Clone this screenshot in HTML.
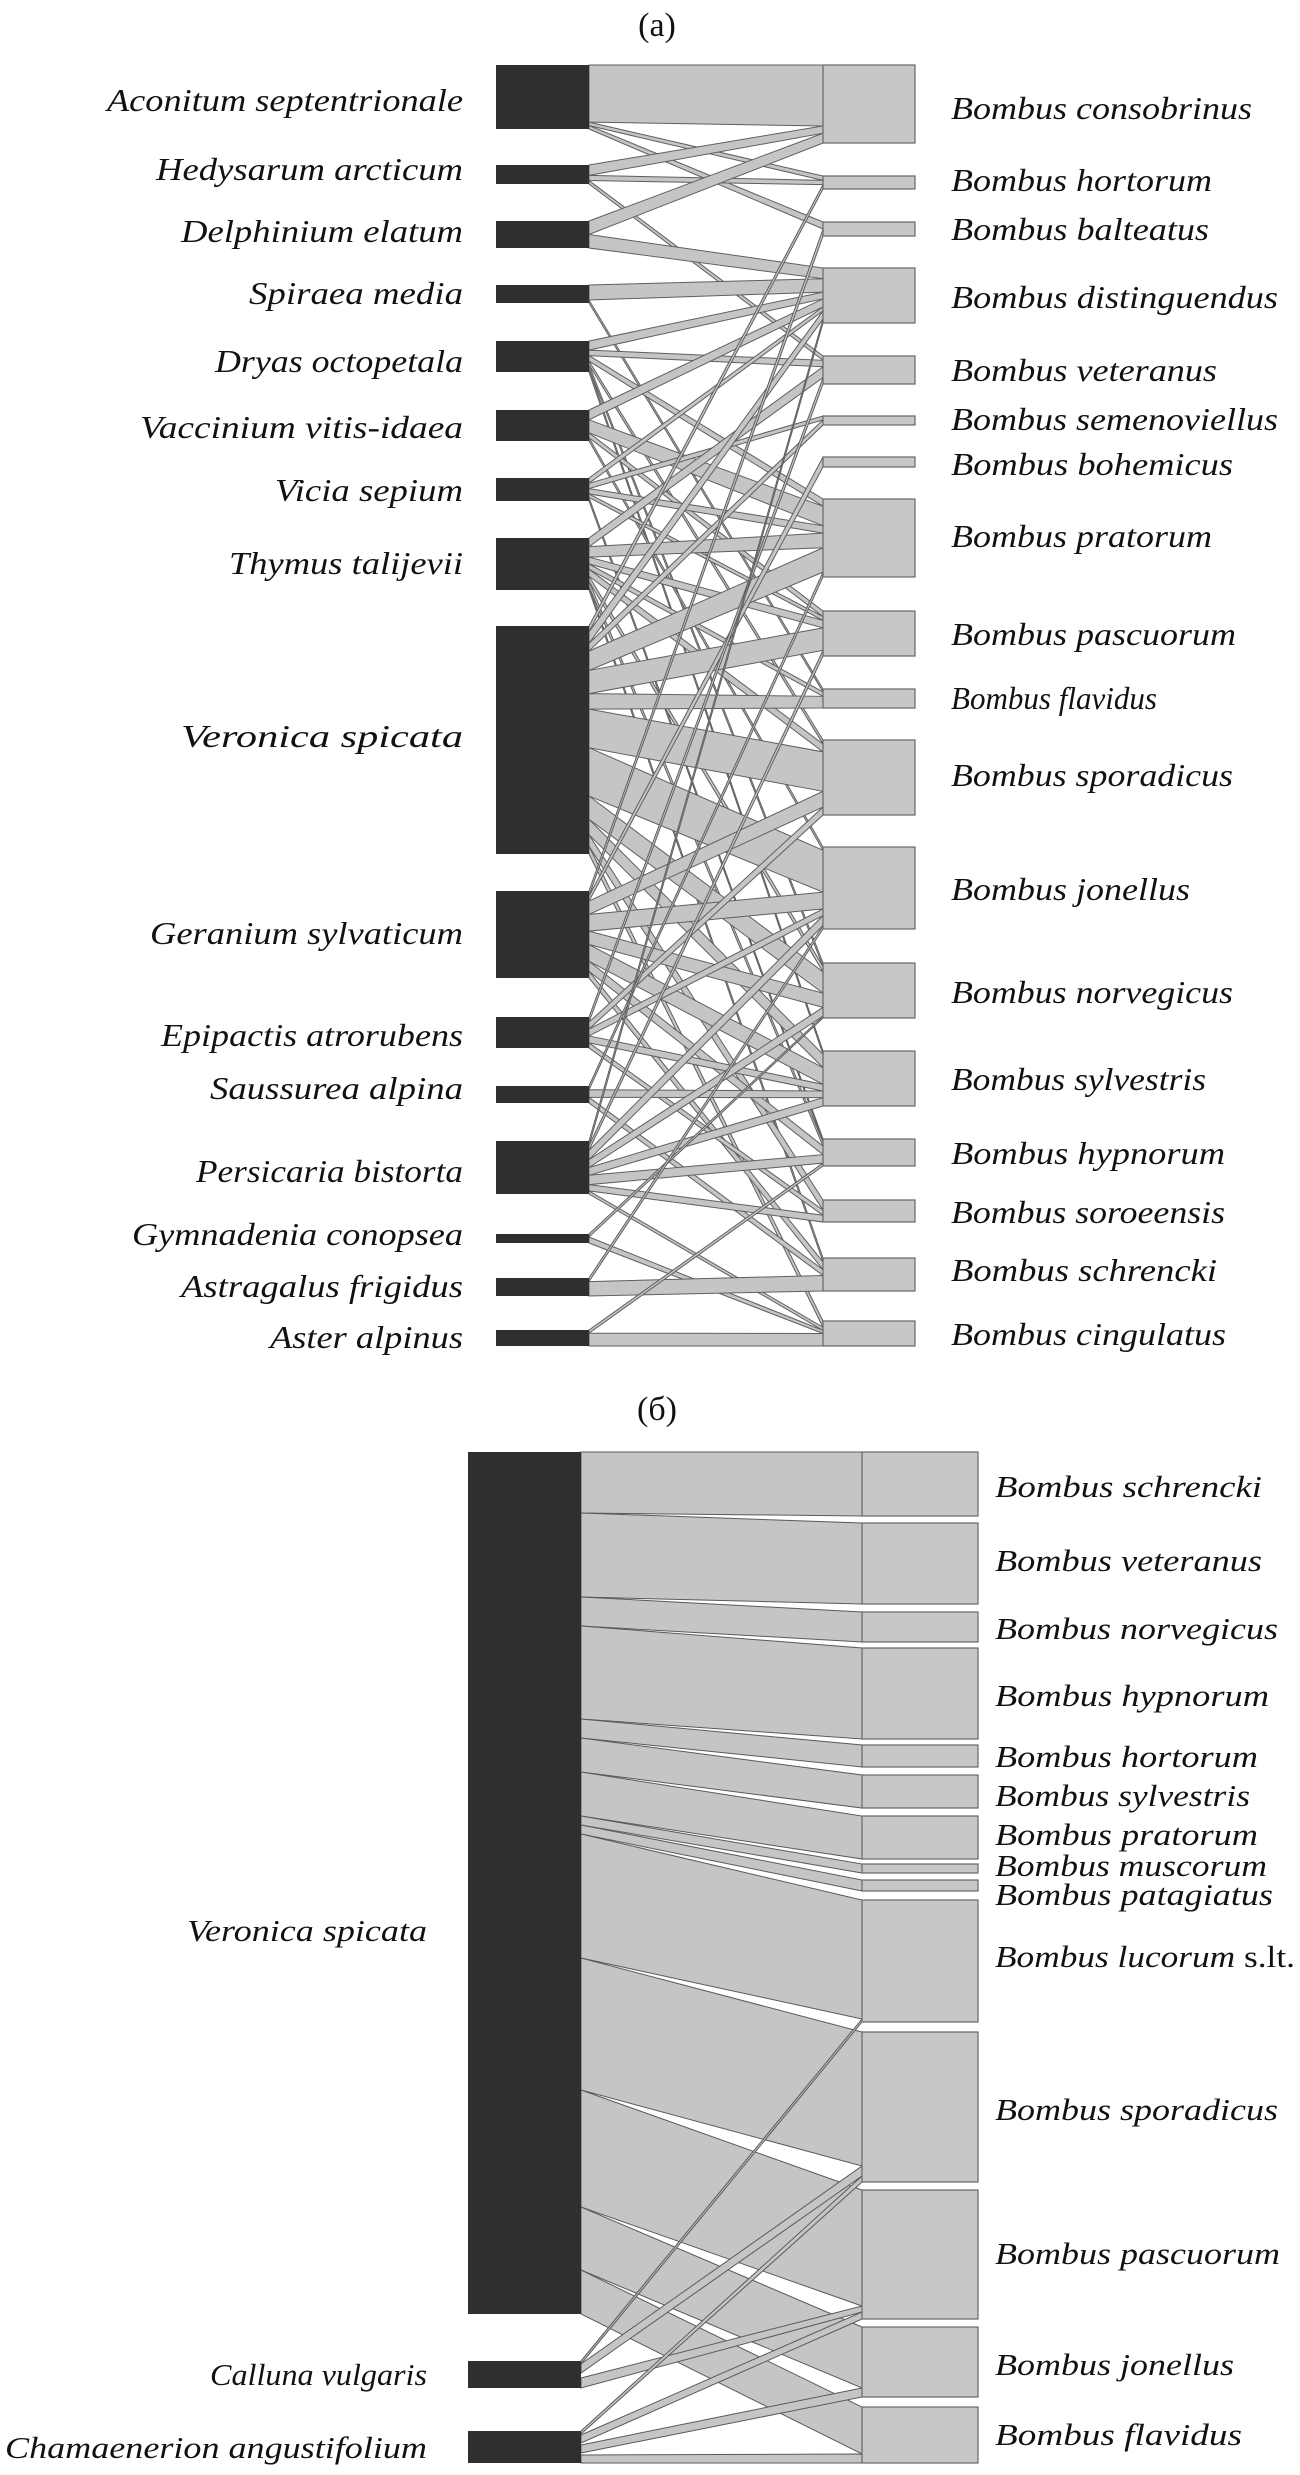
<!DOCTYPE html>
<html><head><meta charset="utf-8"><style>
html,body{margin:0;padding:0;background:#fff}
svg{display:block}
text{font-family:"Liberation Serif",serif;fill:#111}
.it{font-style:italic;font-size:32px}
.itb{font-style:italic;font-size:31px}
</style></head><body>
<svg id="s" width="1300" height="2475" viewBox="0 0 1300 2475" xmlns="http://www.w3.org/2000/svg">
<rect width="1300" height="2475" fill="#fff"/>
<g id="linksA"></g>
<g id="blocksA"></g>
<text x="657" y="36" font-size="34" text-anchor="middle">(a)</text>
<g class="it" text-anchor="end">
<text x="463" y="111" textLength="356" lengthAdjust="spacingAndGlyphs">Aconitum septentrionale</text>
<text x="463" y="180" textLength="307" lengthAdjust="spacingAndGlyphs">Hedysarum arcticum</text>
<text x="463" y="242" textLength="282" lengthAdjust="spacingAndGlyphs">Delphinium elatum</text>
<text x="463" y="304" textLength="214" lengthAdjust="spacingAndGlyphs">Spiraea media</text>
<text x="463" y="372" textLength="248" lengthAdjust="spacingAndGlyphs">Dryas octopetala</text>
<text x="463" y="438" textLength="323" lengthAdjust="spacingAndGlyphs">Vaccinium vitis-idaea</text>
<text x="463" y="501" textLength="188" lengthAdjust="spacingAndGlyphs">Vicia sepium</text>
<text x="463" y="574" textLength="234" lengthAdjust="spacingAndGlyphs">Thymus talijevii</text>
<text x="463" y="747" textLength="282" lengthAdjust="spacingAndGlyphs">Veronica spicata</text>
<text x="463" y="944" textLength="313" lengthAdjust="spacingAndGlyphs">Geranium sylvaticum</text>
<text x="463" y="1046" textLength="302" lengthAdjust="spacingAndGlyphs">Epipactis atrorubens</text>
<text x="463" y="1099" textLength="253" lengthAdjust="spacingAndGlyphs">Saussurea alpina</text>
<text x="463" y="1182" textLength="267" lengthAdjust="spacingAndGlyphs">Persicaria bistorta</text>
<text x="463" y="1245" textLength="331" lengthAdjust="spacingAndGlyphs">Gymnadenia conopsea</text>
<text x="463" y="1297" textLength="282" lengthAdjust="spacingAndGlyphs">Astragalus frigidus</text>
<text x="463" y="1348" textLength="193" lengthAdjust="spacingAndGlyphs">Aster alpinus</text>
</g>
<g class="it">
<text x="951" y="119" textLength="301" lengthAdjust="spacingAndGlyphs">Bombus consobrinus</text>
<text x="951" y="191" textLength="261" lengthAdjust="spacingAndGlyphs">Bombus hortorum</text>
<text x="951" y="240" textLength="258" lengthAdjust="spacingAndGlyphs">Bombus balteatus</text>
<text x="951" y="308" textLength="327" lengthAdjust="spacingAndGlyphs">Bombus distinguendus</text>
<text x="951" y="381" textLength="266" lengthAdjust="spacingAndGlyphs">Bombus veteranus</text>
<text x="951" y="430" textLength="327" lengthAdjust="spacingAndGlyphs">Bombus semenoviellus</text>
<text x="951" y="475" textLength="282" lengthAdjust="spacingAndGlyphs">Bombus bohemicus</text>
<text x="951" y="547" textLength="261" lengthAdjust="spacingAndGlyphs">Bombus pratorum</text>
<text x="951" y="645" textLength="285" lengthAdjust="spacingAndGlyphs">Bombus pascuorum</text>
<text x="951" y="709" textLength="206" lengthAdjust="spacingAndGlyphs">Bombus flavidus</text>
<text x="951" y="786" textLength="282" lengthAdjust="spacingAndGlyphs">Bombus sporadicus</text>
<text x="951" y="900" textLength="239" lengthAdjust="spacingAndGlyphs">Bombus jonellus</text>
<text x="951" y="1003" textLength="282" lengthAdjust="spacingAndGlyphs">Bombus norvegicus</text>
<text x="951" y="1090" textLength="255" lengthAdjust="spacingAndGlyphs">Bombus sylvestris</text>
<text x="951" y="1164" textLength="274" lengthAdjust="spacingAndGlyphs">Bombus hypnorum</text>
<text x="951" y="1223" textLength="274" lengthAdjust="spacingAndGlyphs">Bombus soroeensis</text>
<text x="951" y="1281" textLength="266" lengthAdjust="spacingAndGlyphs">Bombus schrencki</text>
<text x="951" y="1345" textLength="275" lengthAdjust="spacingAndGlyphs">Bombus cingulatus</text>
</g>

<!-- Panel b -->
<text x="657" y="1420" font-size="34" text-anchor="middle">(б)</text>
<g fill="#c4c5c7" stroke="#5a5a5a" stroke-width="1">
<polygon points="581,1452 862,1452 862,1516 581,1513"/>
<polygon points="581,1513 862,1523 862,1604 581,1597"/>
<polygon points="581,1597 862,1612 862,1642 581,1626"/>
<polygon points="581,1626 862,1648 862,1739 581,1719"/>
<polygon points="581,1719 862,1745 862,1767 581,1738"/>
<polygon points="581,1738 862,1775 862,1808 581,1772"/>
<polygon points="581,1772 862,1816 862,1859 581,1816"/>
<polygon points="581,1816 862,1864 862,1873 581,1825"/>
<polygon points="581,1825 862,1880 862,1891 581,1834"/>
<polygon points="581,1834 862,1900 862,2019 581,1958"/>
<polygon points="581,1958 862,2032 862,2166 581,2090"/>
<polygon points="581,2090 862,2190 862,2306 581,2207"/>
<polygon points="581,2207 862,2327 862,2388 581,2270"/>
<polygon points="581,2270 862,2407 862,2454 581,2314"/>
<polygon points="581,2361 862,2019 862,2022 581,2364"/>
<polygon points="581,2364 862,2166 862,2176 581,2373"/>
<polygon points="581,2378 862,2306 862,2312 581,2388"/>
<polygon points="581,2431 862,2176 862,2182 581,2434"/>
<polygon points="581,2435 862,2312 862,2319 581,2443"/>
<polygon points="581,2445 862,2388 862,2397 581,2453"/>
<polygon points="581,2455 862,2454 862,2463 581,2463"/>
</g>
<g fill="#2f2e30">
<rect x="468" y="1452" width="113" height="862"/>
<rect x="468" y="2361" width="113" height="27"/>
<rect x="468" y="2431" width="113" height="32"/>
</g>
<g fill="#c6c7c9" stroke="#666" stroke-width="1.2">
<rect x="862" y="1452" width="116" height="64"/>
<rect x="862" y="1523" width="116" height="81"/>
<rect x="862" y="1612" width="116" height="30"/>
<rect x="862" y="1648" width="116" height="91"/>
<rect x="862" y="1745" width="116" height="22"/>
<rect x="862" y="1775" width="116" height="33"/>
<rect x="862" y="1816" width="116" height="43"/>
<rect x="862" y="1864" width="116" height="9"/>
<rect x="862" y="1880" width="116" height="11"/>
<rect x="862" y="1900" width="116" height="122"/>
<rect x="862" y="2032" width="116" height="150"/>
<rect x="862" y="2190" width="116" height="129"/>
<rect x="862" y="2327" width="116" height="70"/>
<rect x="862" y="2407" width="116" height="56"/>
</g>
<g class="itb">
<text x="995" y="1497" textLength="267" lengthAdjust="spacingAndGlyphs">Bombus schrencki</text>
<text x="995" y="1571" textLength="267" lengthAdjust="spacingAndGlyphs">Bombus veteranus</text>
<text x="995" y="1639" textLength="283" lengthAdjust="spacingAndGlyphs">Bombus norvegicus</text>
<text x="995" y="1706" textLength="274" lengthAdjust="spacingAndGlyphs">Bombus hypnorum</text>
<text x="995" y="1767" textLength="263" lengthAdjust="spacingAndGlyphs">Bombus hortorum</text>
<text x="995" y="1806" textLength="255" lengthAdjust="spacingAndGlyphs">Bombus sylvestris</text>
<text x="995" y="1845" textLength="263" lengthAdjust="spacingAndGlyphs">Bombus pratorum</text>
<text x="995" y="1876" textLength="272" lengthAdjust="spacingAndGlyphs">Bombus muscorum</text>
<text x="995" y="1905" textLength="278" lengthAdjust="spacingAndGlyphs">Bombus patagiatus</text>
<text x="995" y="1967" textLength="300" lengthAdjust="spacingAndGlyphs">Bombus lucorum <tspan font-style="normal">s.lt.</tspan></text>
<text x="995" y="2120" textLength="283" lengthAdjust="spacingAndGlyphs">Bombus sporadicus</text>
<text x="995" y="2264" textLength="285" lengthAdjust="spacingAndGlyphs">Bombus pascuorum</text>
<text x="995" y="2375" textLength="239" lengthAdjust="spacingAndGlyphs">Bombus jonellus</text>
<text x="995" y="2445" textLength="247" lengthAdjust="spacingAndGlyphs">Bombus flavidus</text>
</g>
<g class="itb" text-anchor="end">
<text x="427" y="1941" textLength="240" lengthAdjust="spacingAndGlyphs">Veronica spicata</text>
<text x="427" y="2385" textLength="217" lengthAdjust="spacingAndGlyphs">Calluna vulgaris</text>
<text x="427" y="2458" textLength="422" lengthAdjust="spacingAndGlyphs">Chamaenerion angustifolium</text>
</g>
</svg>
<script>
(function(){
var NS="http://www.w3.org/2000/svg";
var P=[[65,129],[165,184],[221,248],[285,303],[341,372],[410,441],[478,501],[538,590],[626,854],[891,978],[1017,1048],[1086,1103],[1141,1194],[1234,1243],[1278,1296],[1330,1346]];
var B=[[65,143],[176,189],[222,236],[268,323],[356,384],[416,425],[457,467],[499,577],[611,656],[689,708],[740,815],[847,929],[963,1018],[1051,1106],[1139,1166],[1200,1222],[1258,1291],[1321,1346]];
var L=[
[[0,50],[1,3],[2,3]],
[[0,6],[1,3],[4,2]],
[[0,8],[3,8]],
[[3,10],[9,2]],
[[3,5],[4,3],[7,3],[10,2],[12,2],[13,2]],
[[3,6],[7,8],[8,3],[11,2]],
[[3,3],[5,3],[7,3],[8,2],[14,2]],
[[4,5],[7,6],[8,4],[9,3],[10,4],[12,3],[14,3],[16,2]],
[[1,3],[3,6],[5,4],[7,10],[8,12],[9,8],[10,20],[11,25],[12,12],[13,8],[15,6],[17,4]],
[[2,3],[6,3],[10,8],[11,10],[12,8],[13,10],[14,6],[16,4]],
[[4,3],[10,4],[11,4],[13,4],[15,3]],
[[7,2],[13,4],[16,3]],
[[3,3],[8,3],[11,6],[12,5],[13,5],[14,6],[15,4],[17,2]],
[[12,1],[17,2]],
[[11,2],[16,8]],
[[14,2],[17,8]]];
var x1=589,x2=823;
var tin=[];for(var b=0;b<B.length;b++)tin.push([]);
var links=[];
L.forEach(function(ls,p){var tot=0;ls.forEach(function(l){tot+=l[1]});var y=P[p][0],h=P[p][1]-P[p][0];
ls.forEach(function(l){var lk={p:p,b:l[0],w:l[1],s0:y,s1:y+h*l[1]/tot};y=lk.s1;links.push(lk);tin[l[0]].push(lk);});});
tin.forEach(function(arr,b){var tot=0;arr.forEach(function(l){tot+=l.w});var y=B[b][0],h=B[b][1]-B[b][0];
arr.sort(function(a,c){return a.p-c.p});arr.forEach(function(l){l.t0=y;l.t1=y+h*l.w/tot;y=l.t1;});});
var g=document.getElementById("linksA");
links.forEach(function(l){var pg=document.createElementNS(NS,"polygon");
pg.setAttribute("points",x1+","+l.s0+" "+x2+","+l.t0+" "+x2+","+l.t1+" "+x1+","+l.s1);
pg.setAttribute("fill","#c4c5c7");pg.setAttribute("stroke","#5f5f5f");pg.setAttribute("stroke-width","1");g.appendChild(pg);});
var gb=document.getElementById("blocksA");
P.forEach(function(r){var e=document.createElementNS(NS,"rect");e.setAttribute("x",496);e.setAttribute("y",r[0]);e.setAttribute("width",93);e.setAttribute("height",r[1]-r[0]);e.setAttribute("fill","#2f2e30");gb.appendChild(e);});
B.forEach(function(r){var e=document.createElementNS(NS,"rect");e.setAttribute("x",823);e.setAttribute("y",r[0]);e.setAttribute("width",92);e.setAttribute("height",r[1]-r[0]);e.setAttribute("fill","#c6c7c9");e.setAttribute("stroke","#666");e.setAttribute("stroke-width","1.2");gb.appendChild(e);});
})();
</script>
</body></html>
